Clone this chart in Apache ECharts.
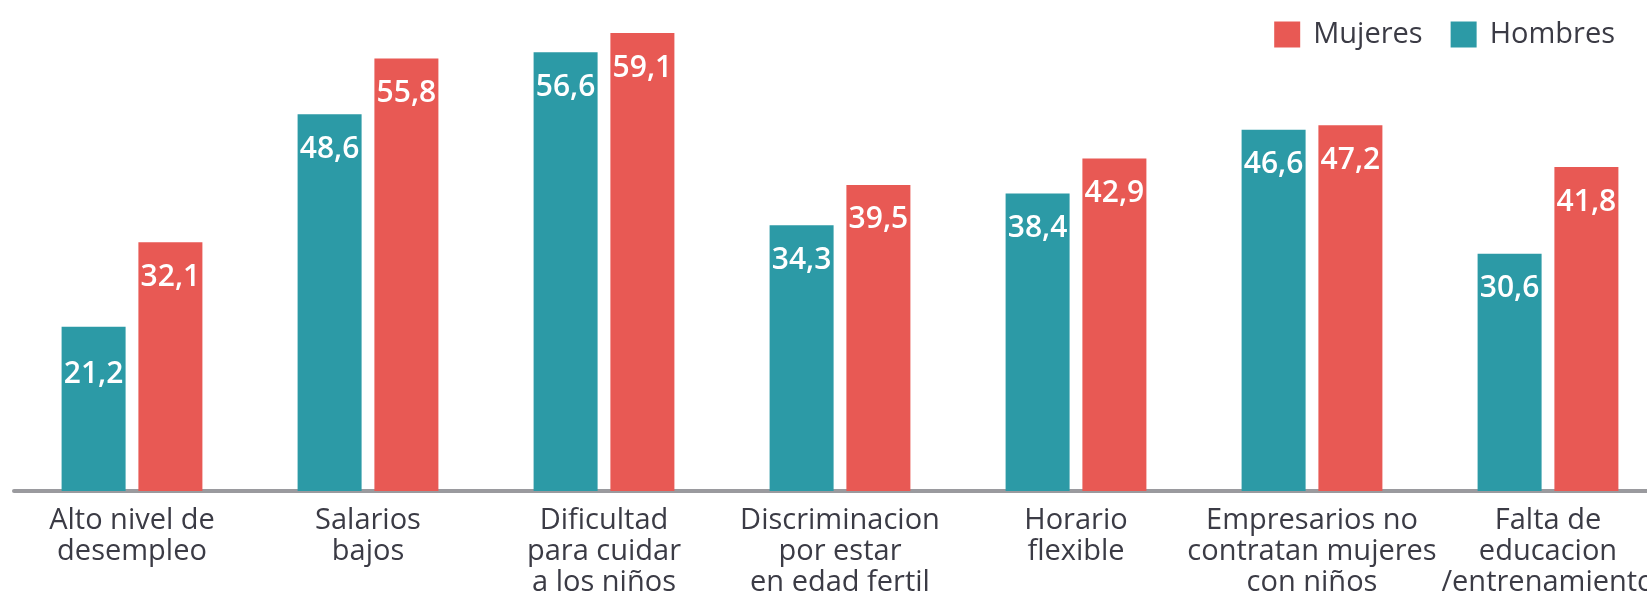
<!DOCTYPE html>
<html>
<head>
<meta charset="utf-8">
<script src="https://cdn.jsdelivr.net/npm/echarts@6/dist/echarts.min.js"></script>
<style>
  html, body { margin: 0; padding: 0; background: #fff; }
  #chart { width: 1647px; height: 600px; }
</style>
</head>
<body>
<div id="chart"></div>
<script>
// categories and values
let categories = [
    'Alto nivel de\ndesempleo',
    'Salarios\nbajos',
    'Dificultad\npara cuidar\na los niños',
    'Discriminacion\npor estar\nen edad fertil',
    'Horario\nflexible',
    'Empresarios no\ncontratan mujeres\ncon niños',
    'Falta de\neducacion\n/entrenamiento'
];
let hombres = [21.2, 48.6, 56.6, 34.3, 38.4, 46.6, 30.6];
let mujeres = [32.1, 55.8, 59.1, 39.5, 42.9, 47.2, 41.8];

let myChart = echarts.init(document.getElementById('chart'));

// label inside bar top, comma decimal
let barLabel = {
    show: true,
    position: 'insideTop',
    distance: 20,
    color: '#fff',
    fontFamily: 'Open Sans',
    fontWeight: 600,
    fontSize: 30,
    formatter: function (p) {
        return p.value.toFixed(1).replace('.', ',');
    }
};

myChart.setOption({
    animation: false,
    legend: {
        data: ['Mujeres', 'Hombres'],
        right: 27,
        top: 15,
        icon: 'rect',
        itemWidth: 26,
        itemHeight: 26,
        itemGap: 28,
        textStyle: {
            fontFamily: 'Open Sans',
            fontSize: 29,
            color: '#3b3b45',
            padding: [0, 0, 0, 8]
        }
    },
    // the last category runs past the right edge: don't let v6 shrink the grid
    grid: {
        left: 14,
        right: -19,
        top: 26,
        bottom: 109,
        outerBoundsMode: 'none',
        containLabel: false
    },
    xAxis: {
        type: 'category',
        data: categories,
        axisTick: { show: false },
        axisLine: { lineStyle: { color: '#9a9a9e', width: 4 } },
        axisLabel: {
            interval: 0,
            margin: 14,
            fontFamily: 'Open Sans',
            fontSize: 29,
            lineHeight: 31,
            color: '#3b3b45'
        }
    },
    yAxis: {
        type: 'value',
        min: 0,
        max: 60,
        show: false,
        splitLine: { show: false }
    },
    series: [
        {
            name: 'Hombres',
            type: 'bar',
            barWidth: 64,
            barGap: '20%',
            itemStyle: { color: '#2c9aa6' },
            label: barLabel,
            // first label sits lower in the reference
            data: hombres.map(function (v, i) {
                return i === 0 ? { value: v, label: { distance: 33 } } : v;
            })
        },
        {
            name: 'Mujeres',
            type: 'bar',
            barWidth: 64,
            barGap: '20%',
            itemStyle: { color: '#e85954' },
            label: barLabel,
            data: mujeres
        }
    ]
});
</script>
</body>
</html>
